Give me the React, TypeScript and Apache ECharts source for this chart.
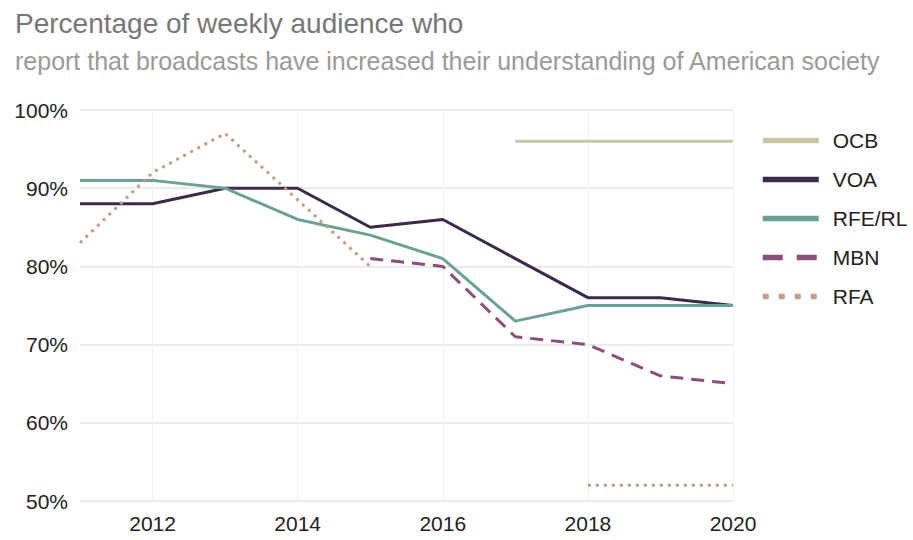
import React, { useEffect, useRef } from "react";
import * as echarts from "echarts";

const years = ["2011", "2012", "2013", "2014", "2015", "2016", "2017", "2018", "2019", "2020"];
const ocb = [null, null, null, null, null, null, 96, 96, 96, 96];
const voa = [88, 88, 90, 90, 85, 86, 81, 76, 76, 75];
const rferl = [91, 91, 90, 86, 84, 81, 73, 75, 75, 75];
const mbn = [null, null, null, null, 81, 80, 71, 70, 66, 65];
const rfa = [83, 92, 97, 88.5, 80, null, null, 52, 52, 52];
const yTicks = [50, 60, 70, 80, 90, 100];

const titleText = "Percentage of weekly audience who";
const subtitleText = "report that broadcasts have increased their understanding of American society";

const FONT = "'Liberation Sans', Arial, sans-serif";

export default function App() {
  const ref = useRef<HTMLDivElement>(null);
  useEffect(() => {
    if (!ref.current) return;
    const chart = echarts.init(ref.current, null, { renderer: "svg" });
    const mk = (name: string, data: any[], color: string, type: any) => ({
      name,
      type: "line",
      data,
      symbol: "none",
      connectNulls: false,
      lineStyle: { color, width: 3, type, cap: "butt" },
      itemStyle: { color },
    });
    chart.setOption({
      animation: false,
      textStyle: { fontFamily: FONT },
      title: [
        { text: titleText, left: 10, top: 4, textStyle: { fontSize: 28, fontWeight: "normal", color: "#777777", fontFamily: FONT } },
        { text: subtitleText, left: 10, top: 43, textStyle: { fontSize: 25, fontWeight: "normal", color: "#9a9a9a", fontFamily: FONT } },
      ],
      legend: {
        orient: "vertical",
        left: 755,
        top: 125,
        itemWidth: 56,
        itemHeight: 14,
        itemGap: 18,
        itemStyle: { opacity: 0 },
        textStyle: { fontSize: 21, color: "#222", fontFamily: FONT, padding: [0, 0, 0, 9] },
        lineStyle: { width: 5.5 },
        data: [
          { name: "OCB" },
          { name: "VOA" },
          { name: "RFE/RL" },
          { name: "MBN", lineStyle: { type: [20, 14] } },
          { name: "RFA", lineStyle: { type: [6, 10] } },
        ],
      },
      grid: { left: 80, right: 180, top: 110, bottom: 39, containLabel: false },
      xAxis: {
        type: "category",
        data: years,
        boundaryGap: false,
        axisLine: { show: false },
        axisTick: { show: false },
        axisLabel: {
          interval: (i: number) => i % 2 === 1,
          fontSize: 21,
          color: "#222",
          margin: 12,
          fontFamily: FONT,
        },
        splitLine: { show: true, interval: (i: number) => i % 2 === 1, lineStyle: { color: "#f2f2f2", width: 1 } },
      },
      yAxis: {
        type: "value",
        min: yTicks[0],
        max: yTicks[yTicks.length - 1],
        interval: 10,
        axisLine: { show: false },
        axisTick: { show: false },
        axisLabel: { formatter: "{value}%", fontSize: 21, color: "#222", margin: 12, fontFamily: FONT },
        splitLine: { lineStyle: { color: "#e4e4e4", width: 1.5 } },
      },
      series: [
        mk("OCB", ocb, "#c8c9a4", "solid"),
        mk("VOA", voa, "#3b2a4c", "solid"),
        mk("RFE/RL", rferl, "#6aa396", "solid"),
        mk("MBN", mbn, "#8b4f7a", [13, 8]),
        mk("RFA", rfa, "#c79c86", [3, 5]),
      ],
    });
    return () => chart.dispose();
  }, []);
  return <div ref={ref} style={{ width: 913, height: 540, position: "absolute", left: 0, top: 0 }} />;
}
